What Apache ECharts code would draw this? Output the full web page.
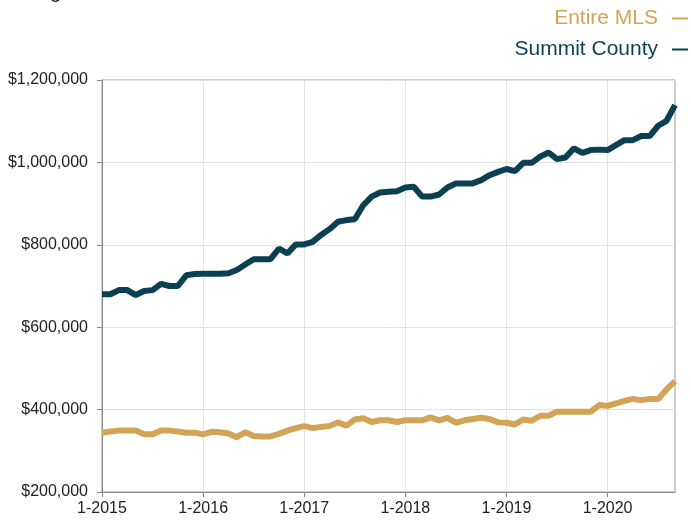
<!DOCTYPE html>
<html>
<head>
<meta charset="utf-8">
<script src="https://cdn.jsdelivr.net/npm/echarts@6/dist/echarts.min.js"></script>
<style>
  html, body { margin: 0; padding: 0; background: #fff; }
  #chart { width: 691px; height: 521px; }
</style>
</head>
<body>
<div id="chart"></div>
<script>
// months 1-2015 .. 9-2020
var years = [2015, 2016, 2017, 2018, 2019, 2020];
var months = [];
years.forEach(function (y) {
  for (var m = 1; m <= 12; m++) {
    if (y === 2020 && m > 9) break;
    months.push(m + '-' + y);
  }
});

// Summit County, rolling 12-month value
var summitCounty = [
  680000, 680000, 690000, 690000, 678000, 688000, 690000, 705000, 700000, 700000, 726000, 729000,
  730000, 730000, 730000, 731000, 739000, 752000, 765000, 765000, 765000, 791000, 779000, 801000,
  801000, 807000, 824000, 838000, 856000, 860000, 862000, 896000, 917000, 927000, 929000, 930000,
  939000, 941000, 917000, 917000, 922000, 939000, 949000, 949000, 949000, 957000, 969000, 977000,
  984000, 979000, 999000, 999000, 1014000, 1024000, 1008000, 1012000, 1034000, 1023000, 1030000, 1031000,
  1030000, 1042000, 1054000, 1054000, 1064000, 1064000, 1089000, 1101000, 1139000
];

// Entire MLS
var entireMLS = [
  344000, 347000, 349000, 349000, 349000, 340000, 340000, 349000, 349000, 347000, 344000, 344000,
  340000, 346000, 345000, 342000, 333000, 345000, 336000, 335000, 335000, 341000, 349000, 355000,
  360000, 355000, 358000, 360000, 369000, 361000, 376000, 379000, 370000, 374000, 374000, 370000,
  374000, 374000, 374000, 381000, 374000, 380000, 368000, 374000, 377000, 380000, 377000, 369000,
  368000, 364000, 376000, 373000, 385000, 385000, 395000, 395000, 395000, 395000, 395000, 411000,
  409000, 415000, 421000, 426000, 423000, 426000, 426000, 449000, 469000
];

var mlsColor = '#d4a456';
var summitColor = '#0b3f52';

var chart = echarts.init(document.getElementById('chart'));
chart.setOption({
  animation: false,
  // title sits mostly above the page edge
  graphic: [{
    type: 'text',
    x: 0,
    y: 2,
    style: {
      text: 'Rolling 12-Month Calculation',
      fontSize: 20,
      fontFamily: 'Liberation Sans',
      fill: '#222',
      verticalAlign: 'bottom'
    }
  }],
  legend: {
    orient: 'vertical',
    right: 3,
    top: 8,
    padding: 0,
    align: 'right',
    itemGap: 10,
    itemWidth: 16,
    itemHeight: 2,
    icon: 'rect',
    textStyle: { fontSize: 21, fontFamily: 'Liberation Sans', padding: [0, 9, 0, 0] },
    data: [
      { name: 'Entire MLS', textStyle: { color: mlsColor } },
      { name: 'Summit County', textStyle: { color: summitColor } }
    ]
  },
  grid: {
    left: 102,
    right: 16,
    top: 80,
    bottom: 29,
    show: true,
    borderColor: '#999',
    borderWidth: 1
  },
  xAxis: {
    type: 'category',
    boundaryGap: false,
    data: months,
    axisLine: { lineStyle: { color: '#888' } },
    axisTick: { interval: 11, length: 5, lineStyle: { color: '#888' } },
    axisLabel: {
      interval: 11,
      color: '#222',
      fontSize: 16,
      fontFamily: 'Liberation Sans',
      margin: 9
    },
    splitLine: { show: true, interval: 11, lineStyle: { color: '#e2e2e2' } }
  },
  yAxis: {
    type: 'value',
    min: 200000,
    max: 1200000,
    interval: 200000,
    axisLine: { show: true, lineStyle: { color: '#888' } },
    axisTick: { show: true, length: 5, lineStyle: { color: '#888' } },
    axisLabel: {
      color: '#222',
      fontSize: 16,
      fontFamily: 'Liberation Sans',
      margin: 14,
      formatter: function (v) {
        return '$' + v.toLocaleString('en-US');
      }
    },
    splitLine: { lineStyle: { color: '#e2e2e2' } }
  },
  series: [
    {
      name: 'Entire MLS',
      type: 'line',
      data: entireMLS,
      showSymbol: false,
      color: mlsColor,
      lineStyle: { width: 6, color: mlsColor }
    },
    {
      name: 'Summit County',
      type: 'line',
      data: summitCounty,
      showSymbol: false,
      color: summitColor,
      lineStyle: { width: 6, color: summitColor }
    }
  ]
});
</script>
</body>
</html>
